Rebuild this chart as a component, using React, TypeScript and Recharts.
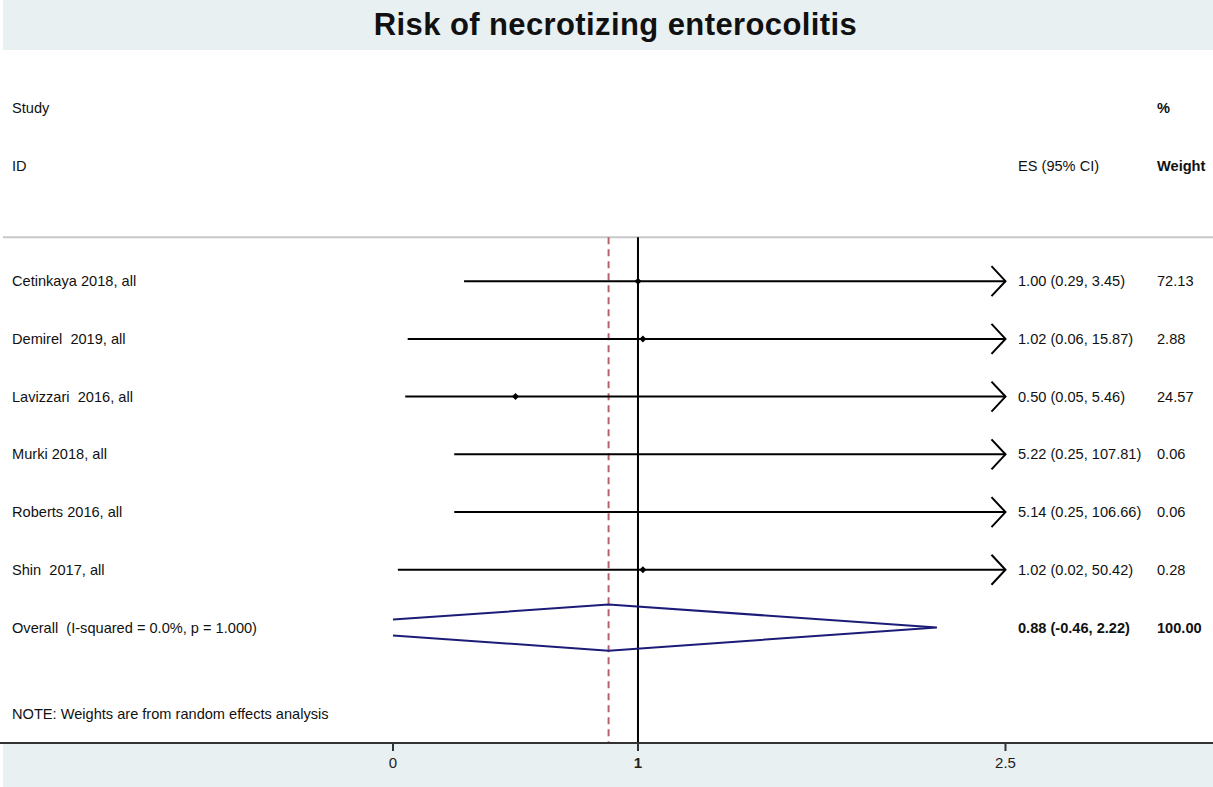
import {
  ComposedChart,
  Line,
  ReferenceLine,
  Scatter,
  XAxis,
  YAxis,
} from 'recharts'

const studies = [
  'Cetinkaya 2018, all',
  'Demirel  2019, all',
  'Lavizzari  2016, all',
  'Murki 2018, all',
  'Roberts 2016, all',
  'Shin  2017, all',
]
const es = [1.0, 1.02, 0.5, 5.22, 5.14, 1.02]
const lo = [0.29, 0.06, 0.05, 0.25, 0.25, 0.02]
const hi = [3.45, 15.87, 5.46, 107.81, 106.66, 50.42]
const esLabels = [
  '1.00 (0.29, 3.45)',
  '1.02 (0.06, 15.87)',
  '0.50 (0.05, 5.46)',
  '5.22 (0.25, 107.81)',
  '5.14 (0.25, 106.66)',
  '1.02 (0.02, 50.42)',
]
const weights = ['72.13', '2.88', '24.57', '0.06', '0.06', '0.28']

const overall = { es: 0.88, lo: -0.46, hi: 2.22 }
const overallLabel = 'Overall  (I-squared = 0.0%, p = 1.000)'
const overallEs = '0.88 (-0.46, 2.22)'
const overallWeight = '100.00'

const xTicks = [0, 1, 2.5]
const xMin = 0
const xMax = 2.5

const W = 1213
const H = 787
const FONT = '"Liberation Sans", Arial, sans-serif'
const BAND = '#e8f0f2'

// row positions (row index units)
const yDomain = [-4.87, 8]
const xDomain = [-1.604, 3.347]
const nullLine = 1
const dashedTop = -0.76

const clip = (v: number) => Math.max(xMin, Math.min(xMax, v))

const ciRows = studies.map((s, i) => ({
  i,
  lo: clip(lo[i]),
  hi: clip(hi[i]),
  arrow: hi[i] > xMax,
}))
const points = es
  .map((v, i) => ({ x: v, y: i }))
  .filter((p) => p.x >= xMin && p.x <= xMax)
const arrows = ciRows.filter((r) => r.arrow).map((r) => ({ x: xMax, y: r.i }))

const textRows = [
  { x: 0, y: -3, a: 'Study', b: '', c: '%', boldB: false, boldC: true },
  { x: 0, y: -2, a: 'ID', b: 'ES (95% CI)', c: 'Weight', boldB: false, boldC: true },
  ...studies.map((s, i) => ({
    x: 0,
    y: i,
    a: s,
    b: esLabels[i],
    c: weights[i],
    boldB: false,
    boldC: false,
  })),
  { x: 0, y: studies.length, a: overallLabel, b: overallEs, c: overallWeight, boldB: true, boldC: true },
  {
    x: 0,
    y: studies.length + 1.5,
    a: 'NOTE: Weights are from random effects analysis',
    b: '',
    c: '',
    boldB: false,
    boldC: false,
  },
]

// diamond, clipped at the axis minimum like Stata does
const half = 0.4
const oy = studies.length
const cut = (x: number) => half * (1 - (overall.es - x) / (overall.es - overall.lo))
const diamond = [
  { x: clip(overall.lo), y: oy - cut(clip(overall.lo)) },
  { x: overall.es, y: oy - half },
  { x: overall.hi, y: oy },
  { x: overall.es, y: oy + half },
  { x: clip(overall.lo), y: oy + cut(clip(overall.lo)) },
]

function TextRow(props: any) {
  const { cy, payload } = props
  const base = { fontFamily: FONT, fontSize: 14.6, fill: '#111', dominantBaseline: 'central' as const }
  return (
    <g>
      <text x={12} y={cy} {...base} style={{ whiteSpace: 'pre' }}>
        {payload.a}
      </text>
      <text x={1018} y={cy} {...base} fontWeight={payload.boldB ? 700 : 400}>
        {payload.b}
      </text>
      <text x={1157} y={cy} {...base} fontWeight={payload.boldC ? 700 : 400}>
        {payload.c}
      </text>
    </g>
  )
}

function Marker(props: any) {
  const { cx, cy } = props
  const r = 3.5
  return <path d={`M${cx - r},${cy} L${cx},${cy - r} L${cx + r},${cy} L${cx},${cy + r} Z`} fill="#000" />
}

function Arrow(props: any) {
  const { cx, cy } = props
  return (
    <polyline
      points={`${cx - 14},${cy - 15} ${cx},${cy} ${cx - 14},${cy + 15}`}
      fill="none"
      stroke="#000"
      strokeWidth={2}
    />
  )
}

function Tick(props: any) {
  const { x, y, payload } = props
  return (
    <text
      x={x}
      y={y + 15}
      textAnchor="middle"
      fontFamily={FONT}
      fontSize={15}
      fontWeight={payload.value === 1 ? 700 : 400}
      fill="#222"
    >
      {payload.value}
    </text>
  )
}

export default function App() {
  return (
    <div style={{ position: 'absolute', left: 0, top: 0, width: W, height: H, background: '#fff' }}>
      <div style={{ position: 'absolute', left: 3, top: 0, width: W - 3, height: 50, background: BAND }} />
      <div style={{ position: 'absolute', left: 3, top: 743, width: W - 3, height: H - 743, background: BAND }} />
      <div
        style={{
          position: 'absolute',
          left: 9,
          top: 0,
          width: W,
          height: 50,
          lineHeight: '50px',
          textAlign: 'center',
          fontFamily: FONT,
          fontWeight: 700,
          fontSize: 31,
          letterSpacing: 0.4,
          color: '#111',
        }}
      >
        Risk of necrotizing enterocolitis
      </div>
      <div style={{ position: 'absolute', left: 0, top: 0 }}>
        <ComposedChart width={W} height={H} margin={{ top: 0, right: 0, bottom: 0, left: 0 }}>
          <XAxis
            type="number"
            dataKey="x"
            domain={xDomain}
            allowDataOverflow
            ticks={xTicks}
            interval={0}
            height={44}
            tickSize={8}
            axisLine={{ stroke: '#333', strokeWidth: 2 }}
            tickLine={{ stroke: '#333', strokeWidth: 2 }}
            tick={<Tick />}
          />
          <YAxis type="number" dataKey="y" domain={yDomain} allowDataOverflow reversed hide />
          <ReferenceLine
            segment={[
              { x: xDomain[0] + 0.012, y: dashedTop },
              { x: xDomain[1], y: dashedTop },
            ]}
            stroke="#c8c8c8"
            strokeWidth={2}
          />
          <ReferenceLine
            segment={[
              { x: overall.es, y: dashedTop },
              { x: overall.es, y: yDomain[1] },
            ]}
            stroke="#b5646c"
            strokeWidth={2}
            strokeDasharray="7 5"
          />
          <ReferenceLine
            segment={[
              { x: nullLine, y: dashedTop },
              { x: nullLine, y: yDomain[1] },
            ]}
            stroke="#000"
            strokeWidth={2}
          />
          {ciRows.map((r) => (
            <ReferenceLine
              key={r.i}
              segment={[
                { x: r.lo, y: r.i },
                { x: r.hi, y: r.i },
              ]}
              stroke="#000"
              strokeWidth={2}
            />
          ))}
          <Line
            data={diamond}
            dataKey="y"
            type="linear"
            stroke="#1c1c78"
            strokeWidth={2}
            dot={false}
            activeDot={false}
            isAnimationActive={false}
          />
          <Scatter data={points} shape={<Marker />} isAnimationActive={false} />
          <Scatter data={arrows} shape={<Arrow />} isAnimationActive={false} />
          <Scatter data={textRows} shape={<TextRow />} isAnimationActive={false} />
        </ComposedChart>
      </div>
    </div>
  )
}
